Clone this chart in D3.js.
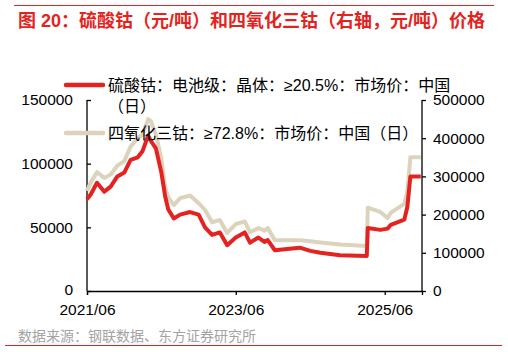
<!DOCTYPE html>
<html>
<head>
<meta charset="utf-8">
<script src="https://cdn.jsdelivr.net/npm/d3@7"></script>
<style>
  body { margin: 0; background: #fff; }
  text { font-family: "Liberation Sans", "Noto Sans CJK SC", sans-serif; }
</style>
</head>
<body>
<div id="chart"></div>
<script>
// dates of the readings
const dates = ["2021-06-01","2021-06-20","2021-07-20","2021-08-25","2021-09-25","2021-10-28","2021-12-01",
  "2022-01-01","2022-02-05","2022-03-01","2022-03-28","2022-04-10","2022-05-05","2022-06-01","2022-06-20",
  "2022-07-05","2022-08-01","2022-09-01","2022-10-20","2022-12-01","2023-01-01","2023-02-05","2023-03-15",
  "2023-04-20","2023-06-01","2023-07-15","2023-08-10","2023-09-20","2023-10-20","2023-11-05","2023-12-10",
  "2024-04-10","2024-06-01","2024-07-20","2024-10-25","2025-03-05","2025-03-10","2025-05-10","2025-06-15",
  "2025-07-01","2025-09-05","2025-09-20","2025-10-05","2025-11-25"];
// 硫酸钴 (left axis)
const cobaltSulfate = [72000,76000,85000,78000,82000,90000,93000,
  103000,105000,110000,122000,118000,112000,93000,74000,
  64000,57000,60000,62000,60000,50000,44000,46000,
  36000,42000,46000,38000,42000,38500,40000,32000,
  34000,31500,30000,28000,27500,49500,48000,49000,
  52000,56000,66000,90000,90000];
// 四氧化三钴 (right axis)
const cobaltTetroxide = [262000,285000,311000,296000,305000,328000,340000,
  378000,400000,410000,450000,445000,410000,345000,270000,
  245000,225000,243000,250000,230000,212000,180000,186000,
  152000,175000,182000,154000,165000,158000,165000,133000,
  133000,130000,127000,122000,118000,218000,207000,191000,
  205000,228000,260000,350000,350000];
const leftTicks = [0, 50000, 100000, 150000];
const rightTicks = [0, 100000, 200000, 300000, 400000, 500000];
const xTickDates = ["2021-06-01", "2023-06-01", "2025-06-01"];
const xTickLabels = ["2021/06", "2023/06", "2025/06"];
const legendLabels = [["硫酸钴：电池级：晶体：≥20.5%：市场价：中国", "（日）"], ["四氧化三钴：≥72.8%：市场价：中国（日）"]];

const W = 508, H = 352;
const red = "#e42320", beige = "#dcd3bd";
const parse = d3.timeParse("%Y-%m-%d");

const svg = d3.select("#chart").append("svg")
  .attr("width", W).attr("height", H);

const x = d3.scaleTime()
  .domain([parse("2021-06-01"), parse("2025-12-01")])
  .range([87, 422]);
const yL = d3.scaleLinear().domain([0, 150000]).range([291, 100]);
const yR = d3.scaleLinear().domain([0, 500000]).range([291, 100]);

// frame lines
svg.append("line").attr("x1", 14).attr("x2", 494).attr("y1", 5.5).attr("y2", 5.5)
  .attr("stroke", red).attr("stroke-width", 1);
svg.append("line").attr("x1", 5).attr("x2", 502).attr("y1", 345.5).attr("y2", 345.5)
  .attr("stroke", red).attr("stroke-width", 1);

svg.append("text")
  .attr("x", 18).attr("y", 27)
  .attr("fill", red)
  .attr("font-size", 18).attr("font-weight", "bold")
  .text("图 20：硫酸钴（元/吨）和四氧化三钴（右轴，元/吨）价格");

// axes
const gL = svg.append("g").attr("transform", "translate(87,0)")
  .call(d3.axisRight(yL).tickValues(leftTicks).tickSize(4).tickFormat(d3.format("d")));
gL.selectAll("text").attr("x", -14).attr("text-anchor", "end");

const gR = svg.append("g").attr("transform", "translate(422,0)")
  .call(d3.axisRight(yR).tickValues(rightTicks).tickSize(4).tickPadding(7).tickFormat(d3.format("d")));

const gX = svg.append("g").attr("transform", "translate(0,291)")
  .call(d3.axisBottom(x).tickValues(xTickDates.map(parse)).tickSize(4).tickPadding(9)
    .tickFormat((d, i) => xTickLabels[i]));

[gL, gR, gX].forEach(g => {
  g.select(".domain").attr("stroke", "#000").attr("stroke-width", 1.3);
  g.selectAll(".tick line").attr("stroke", "#000").attr("stroke-width", 1.3);
  g.selectAll("text").attr("font-size", 15.5).attr("fill", "#000")
    .style("font-family", "'Liberation Sans', sans-serif");
});
gL.select(".domain").attr("d", "M0,291V100");
gR.select(".domain").attr("d", "M0,291V100");
// the zero label sits a touch higher so it clears the first date label
gL.selectAll(".tick").filter(d => d === 0).select("text").attr("dy", "0.2em");

// series
const rows = dates.map((d, i) => ({ date: parse(d), s: cobaltSulfate[i], t: cobaltTetroxide[i] }));

svg.append("path").datum(rows)
  .attr("fill", "none").attr("stroke", beige).attr("stroke-width", 4)
  .attr("stroke-linejoin", "round")
  .attr("d", d3.line().x(d => x(d.date)).y(d => yR(d.t)));

svg.append("path").datum(rows)
  .attr("fill", "none").attr("stroke", red).attr("stroke-width", 4)
  .attr("stroke-linejoin", "round")
  .attr("d", d3.line().x(d => x(d.date)).y(d => yL(d.s)));

// legend
const legend = svg.append("g");
[[red, 85], [beige, 133]].forEach(([c, ly], i) => {
  legend.append("line").attr("x1", 66).attr("x2", 103).attr("y1", ly).attr("y2", ly)
    .attr("stroke", c).attr("stroke-width", 4.5).attr("stroke-linecap", "round");
  legendLabels[i].forEach((t, j) => {
    legend.append("text")
      .attr("x", 108).attr("y", ly + 6 + j * 21)
      .attr("font-size", 16).attr("fill", "#000")
      .text(t);
  });
});

svg.append("text")
  .attr("x", 18).attr("y", 341)
  .attr("font-size", 14).attr("fill", "#a3a3a3")
  .text("数据来源：钢联数据、东方证券研究所");
</script>
</body>
</html>
